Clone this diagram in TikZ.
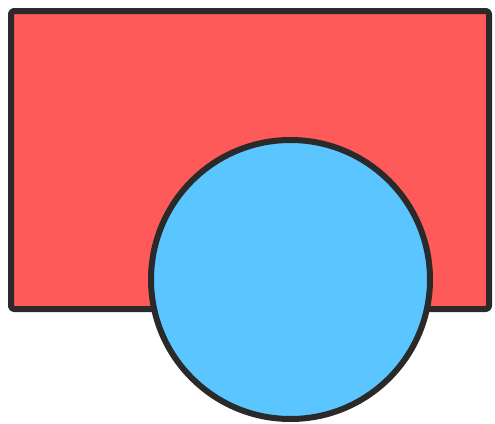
\documentclass[tikz,border=0pt]{standalone}
\definecolor{rectred}{HTML}{FF5A5A}
\definecolor{circblue}{HTML}{5BC5FF}
\definecolor{edge}{HTML}{2A2A2A}
\tikzset{
  shapeline/.style={draw=edge, line width=6pt, line join=round},
}
\begin{document}
\begin{tikzpicture}[x=1pt,y=-1pt]
  \useasboundingbox (0,0) rectangle (495,423);
  \fill[white] (0,0) rectangle (495,423);
  \path[shapeline, fill=rectred, rounded corners=3pt] (11,11) rectangle (489,309);
  \path[shapeline, fill=circblue] (290.5,279.5) circle (139.5);
\end{tikzpicture}
\end{document}
